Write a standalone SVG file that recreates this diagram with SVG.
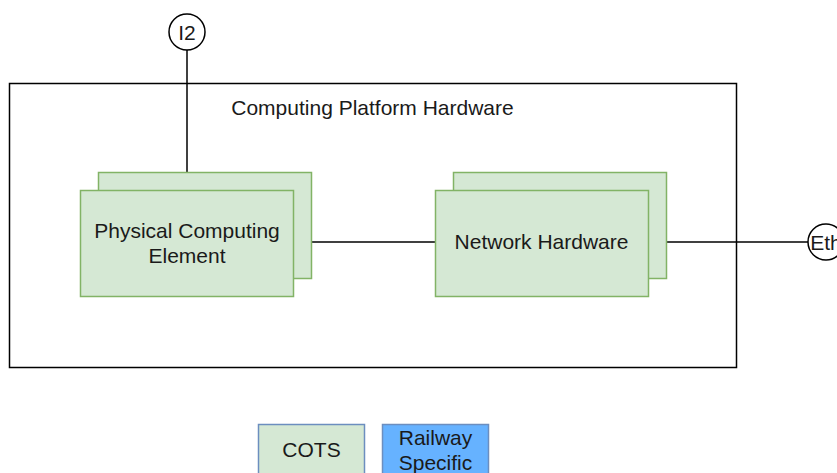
<svg xmlns="http://www.w3.org/2000/svg" width="837" height="473" viewBox="0 0 837 473">
  <style>
    .lbl { font-family: "Liberation Sans", Arial, sans-serif; font-size: 21px; fill: #1a1a1a; text-anchor: middle; }
    .green { fill: #d5e8d4; stroke: #82b366; stroke-width: 1.5; }
    .wire { stroke: #000; stroke-width: 1.5; fill: none; }
    .port { fill: #fff; stroke: #000; stroke-width: 1.5; }
  </style>
  <rect width="837" height="473" fill="#fff"/>

  <!-- platform container -->
  <g id="platform">
    <rect x="9.5" y="83.5" width="727" height="284" fill="#fff" stroke="#000" stroke-width="1.5"/>
    <text class="lbl" x="372.5" y="115">Computing Platform Hardware</text>
  </g>

  <!-- connectors -->
  <g id="connectors">
    <line class="wire" x1="187" y1="50" x2="187" y2="190"/>
    <line class="wire" x1="293" y1="242" x2="435" y2="242"/>
    <line class="wire" x1="648" y1="242" x2="808" y2="242"/>
  </g>

  <g id="pce">
    <rect class="green" x="98.5" y="172.5" width="213" height="106"/>
    <rect class="green" x="80.5" y="190.5" width="213" height="106"/>
    <text class="lbl" x="187" y="238">Physical Computing</text>
    <text class="lbl" x="187" y="263">Element</text>
  </g>

  <g id="network">
    <rect class="green" x="453.5" y="172.5" width="213" height="106"/>
    <rect class="green" x="435.5" y="190.5" width="213" height="106"/>
    <text class="lbl" x="541.5" y="249">Network Hardware</text>
  </g>

  <g id="port-i2">
    <circle class="port" cx="187" cy="32" r="18"/>
    <text class="lbl" x="187" y="39.5">I2</text>
  </g>

  <g id="port-eth">
    <circle class="port" cx="826" cy="242" r="18"/>
    <text class="lbl" x="826" y="249.5">Eth</text>
  </g>

  <!-- legend -->
  <g id="legend-cots">
    <rect x="258.5" y="424.5" width="106" height="60" fill="#d5e8d4" stroke="#6c8ebf" stroke-width="1.5"/>
    <text class="lbl" x="311.5" y="457">COTS</text>
  </g>
  <g id="legend-railway">
    <rect x="382.5" y="424.5" width="106" height="60" fill="#66b2ff" stroke="#6c8ebf" stroke-width="1.5"/>
    <text class="lbl" x="435.5" y="445">Railway</text>
    <text class="lbl" x="435.5" y="470">Specific</text>
  </g>
</svg>
